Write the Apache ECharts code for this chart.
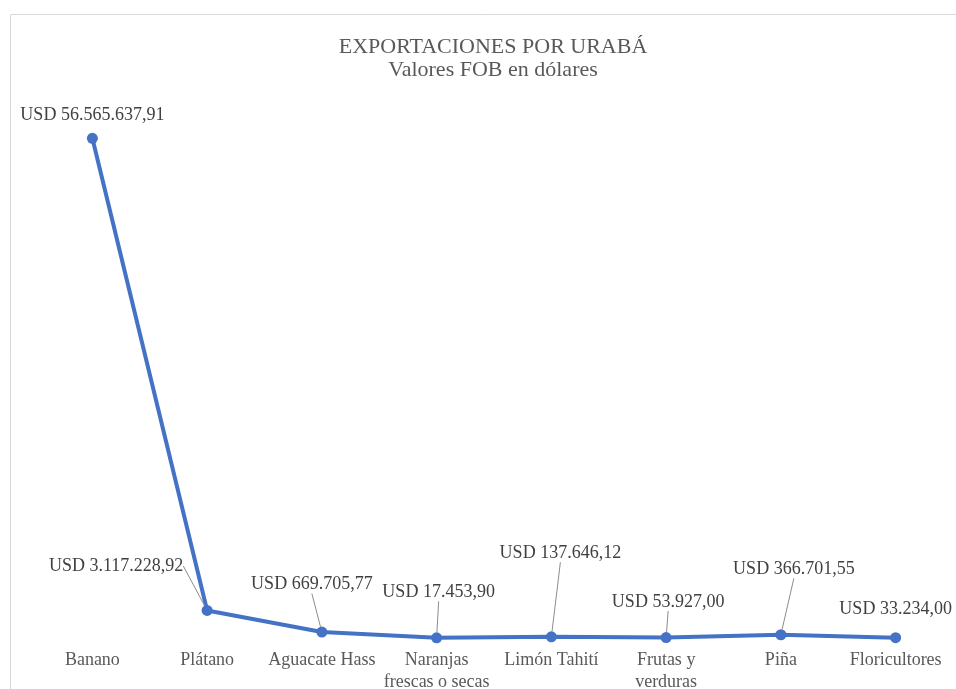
<!DOCTYPE html>
<html>
<head>
<meta charset="utf-8">
<script src="https://cdn.jsdelivr.net/npm/echarts@6/dist/echarts.min.js"></script>
<style>html,body{margin:0;padding:0;background:#fff;}#c{width:956px;height:689px;}</style>
</head>
<body>
<div id="c"></div>
<script>
var categories = ['Banano', 'Plátano', 'Aguacate Hass', 'Naranjas\nfrescas o secas', 'Limón Tahití', 'Frutas y\nverduras', 'Piña', 'Floricultores'];
var values = [56565637.91, 3117228.92, 669705.77, 17453.90, 137646.12, 53927.00, 366701.55, 33234.00];
var valueLabels = ['USD 56.565.637,91', 'USD 3.117.228,92', 'USD 669.705,77', 'USD 17.453,90', 'USD 137.646,12', 'USD 53.927,00', 'USD 366.701,55', 'USD 33.234,00'];

// label placement offsets (style, not data)
var labelShift = [[0, -4], [-91, -25], [-10, -28], [2, -26], [9, -64], [2, -16], [13, -46], [0, -9]];
var showGuide = [false, true, true, true, true, true, true, false];

var serif = '"Liberation Serif", "Times New Roman", serif';
var chart = echarts.init(document.getElementById('c'));
chart.setOption({
  animation: false,
  backgroundColor: '#ffffff',
  graphic: [{
    type: 'rect', shape: { x: 10.5, y: 14.5, width: 1000, height: 700 },
    style: { fill: 'none', stroke: '#d9d9d9', lineWidth: 1 }, silent: true
  }],
  title: {
    text: 'EXPORTACIONES POR URABÁ\nValores FOB en dólares',
    left: 488, top: 31, textAlign: 'center',
    textStyle: { fontFamily: serif, fontSize: 22, fontWeight: 'normal', color: '#595959', lineHeight: 23 }
  },
  grid: { left: 35, right: 3, top: 108, bottom: 51, outerBoundsMode: 'none', containLabel: false },
  xAxis: {
    type: 'category', data: categories, boundaryGap: true,
    axisLine: { show: false }, axisTick: { show: false },
    axisLabel: { margin: 11, fontFamily: serif, fontSize: 18, color: '#595959', lineHeight: 22, interval: 0 }
  },
  yAxis: {
    type: 'value', min: 0, max: 60000000, show: false, splitLine: { show: false }
  },
  series: [{
    type: 'line',
    data: values.map(function (v, i) {
      return { value: v, labelLine: { show: showGuide[i] } };
    }),
    symbol: 'circle', symbolSize: 11,
    lineStyle: { color: '#4472C4', width: 4 },
    itemStyle: { color: '#4472C4' },
    label: {
      show: true, position: 'top',
      fontFamily: serif, fontSize: 18, color: '#404040',
      formatter: function (p) { return valueLabels[p.dataIndex]; }
    },
    labelLine: { show: true, lineStyle: { color: '#8c8c8c', width: 1 } },
    labelLayout: function (p) {
      var s = labelShift[p.dataIndex];
      return { dx: s[0], dy: s[1] };
    }
  }]
});
</script>
</body>
</html>
